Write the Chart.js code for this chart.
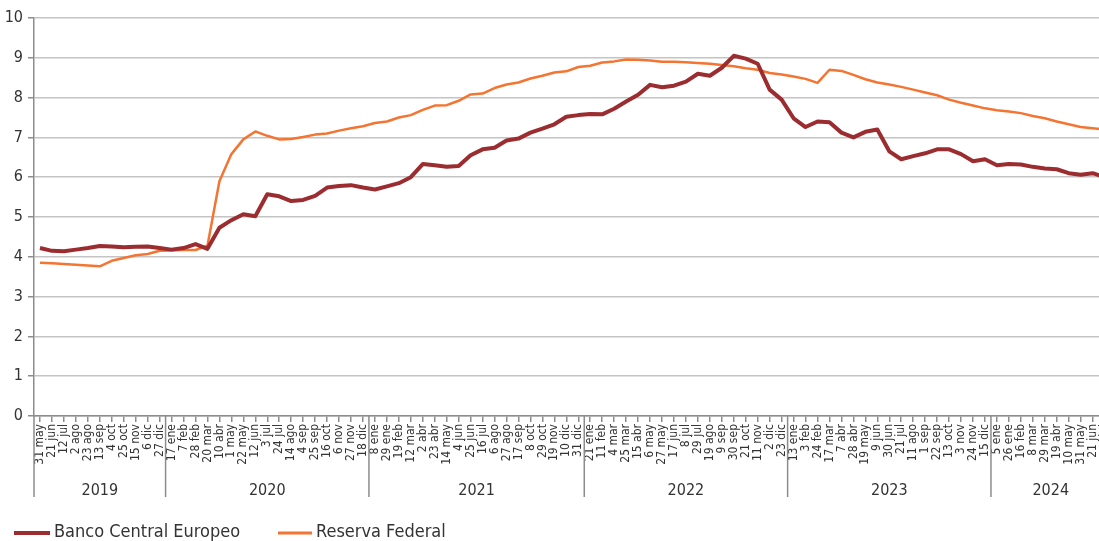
<!DOCTYPE html>
<html>
<head>
<meta charset="utf-8">
<script src="https://cdn.jsdelivr.net/npm/chart.js@4"></script>
<style>
  html, body { margin: 0; padding: 0; background: #fff; overflow: hidden; }
  #chart { display: block; }
</style>
</head>
<body>
<canvas id="chart" width="1121" height="548"></canvas>
<script>
// Tick labels, one every three weeks (31 may 2019 .. 12 jul 2024)
const tickLabels = [
    "31 may", "21 jun", "12 jul", "2 ago", "23 ago", "13 sep", "4 oct", "25 oct", "15 nov", "6 dic", "27 dic",
    "17 ene", "7 feb", "28 feb", "20 mar", "10 abr", "1 may", "22 may", "12 jun", "3 jul", "24 jul", "14 ago", "4 sep", "25 sep", "16 oct", "6 nov", "27 nov", "18 dic",
    "8 ene", "29 ene", "19 feb", "12 mar", "2 abr", "23 abr", "14 may", "4 jun", "25 jun", "16 jul", "6 ago", "27 ago", "17 sep", "8 oct", "29 oct", "19 nov", "10 dic", "31 dic",
    "21 ene", "11 feb", "4 mar", "25 mar", "15 abr", "6 may", "27 may", "17 jun", "8 jul", "29 jul", "19 ago", "9 sep", "30 sep", "21 oct", "11 nov", "2 dic", "23 dic",
    "13 ene", "3 feb", "24 feb", "17 mar", "7 abr", "28 abr", "19 may", "9 jun", "30 jun", "21 jul", "11 ago", "1 sep", "22 sep", "13 oct", "3 nov", "24 nov", "15 dic",
    "5 ene", "26 ene", "16 feb", "8 mar", "29 mar", "19 abr", "10 may", "31 may", "21 jun", "12 jul"
];

const years = ["2019", "2020", "2021", "2022", "2023", "2024"];
const yearStarts = [0, 11, 28, 46, 63, 80]; // index of first tick of each year

const ecbValues = [
    4.22, 4.15, 4.14, 4.18, 4.22, 4.27, 4.26, 4.24, 4.25, 4.26, 4.22,
    4.18, 4.22, 4.32, 4.20, 4.73, 4.92, 5.07, 5.02, 5.57, 5.52, 5.40, 5.43, 5.53, 5.74, 5.78, 5.80, 5.74,
    5.69, 5.77, 5.85, 6.00, 6.33, 6.30, 6.26, 6.28, 6.55, 6.70, 6.74, 6.92, 6.97, 7.12, 7.22, 7.33, 7.52, 7.56,
    7.59, 7.58, 7.72, 7.90, 8.07, 8.32, 8.26, 8.30, 8.40, 8.60, 8.55, 8.75, 9.05, 8.98, 8.85, 8.20, 7.95,
    7.48, 7.26, 7.40, 7.38, 7.12, 7.00, 7.14, 7.20, 6.65, 6.45, 6.53, 6.60, 6.70, 6.70, 6.58, 6.40, 6.45,
    6.30, 6.33, 6.32, 6.26, 6.22, 6.20, 6.10, 6.06, 6.10, 6.00
];

const fedValues = [
    3.85, 3.84, 3.82, 3.80, 3.78, 3.76, 3.90, 3.97, 4.04, 4.07, 4.15,
    4.16, 4.17, 4.17, 4.28, 5.90, 6.58, 6.95, 7.15, 7.04, 6.95, 6.96, 7.01, 7.07, 7.10, 7.17, 7.23, 7.28,
    7.36, 7.40, 7.50, 7.56, 7.69, 7.80, 7.81, 7.92, 8.08, 8.10, 8.24, 8.33, 8.38, 8.48, 8.55, 8.63, 8.66, 8.77,
    8.80, 8.88, 8.91, 8.96, 8.95, 8.93, 8.90, 8.90, 8.89, 8.87, 8.85, 8.82, 8.79, 8.74, 8.70, 8.62, 8.58,
    8.53, 8.47, 8.37, 8.70, 8.67, 8.57, 8.46, 8.38, 8.33, 8.27, 8.20, 8.13, 8.06, 7.95, 7.87, 7.80, 7.73,
    7.68, 7.65, 7.61, 7.54, 7.48, 7.40, 7.33, 7.26, 7.23, 7.20
];

const ECB_COLOR = "#9b2c2f";
const FED_COLOR = "#f47432";
const AXIS_COLOR = "#8c8c8c";
const TEXT_COLOR = "#333333";
const FONT = "'Liberation Sans Narrow', 'DejaVu Sans Condensed', 'Roboto Condensed', Roboto, sans-serif";

// year row under the rotated tick labels
const yearBands = {
    id: "yearBands",
    afterDraw(chart) {
        const { ctx, chartArea } = chart;
        const x = chart.scales.x;
        const half = (x.getPixelForValue(1) - x.getPixelForValue(0)) / 2;
        ctx.save();
        ctx.strokeStyle = AXIS_COLOR;
        ctx.lineWidth = 1.5;
        ctx.fillStyle = TEXT_COLOR;
        ctx.font = "16px " + FONT;
        ctx.textAlign = "center";
        ctx.textBaseline = "middle";
        yearStarts.forEach((start, k) => {
            const end = k + 1 < yearStarts.length ? yearStarts[k + 1] : tickLabels.length;
            const left = x.getPixelForValue(start) - half;
            const right = x.getPixelForValue(end - 1) + half;
            ctx.beginPath();
            ctx.moveTo(left, chartArea.bottom);
            ctx.lineTo(left, chartArea.bottom + 81);
            ctx.stroke();
            ctx.fillText(years[k], (left + right) / 2, chartArea.bottom + 75);
        });
        ctx.restore();
    }
};

// legend drawn by hand so items sit where they do in the original
const lineLegend = {
    id: "lineLegend",
    afterDraw(chart) {
        const { ctx } = chart;
        const items = [
            { ds: chart.data.datasets[0], x: 14, w: 36, lw: 4 },
            { ds: chart.data.datasets[1], x: 278, w: 34, lw: 3 }
        ];
        const y = 533;
        ctx.save();
        ctx.font = "18px " + FONT;
        ctx.textBaseline = "middle";
        ctx.fillStyle = TEXT_COLOR;
        items.forEach(it => {
            ctx.strokeStyle = it.ds.borderColor;
            ctx.lineWidth = it.lw;
            ctx.beginPath();
            ctx.moveTo(it.x, y);
            ctx.lineTo(it.x + it.w, y);
            ctx.stroke();
            ctx.fillText(it.ds.label, it.x + it.w + 4, y - 1);
        });
        ctx.restore();
    }
};

const ctx = document.getElementById("chart").getContext("2d");

new Chart(ctx, {
    type: "line",
    data: {
        labels: tickLabels,
        datasets: [
            {
                label: "Banco Central Europeo",
                data: ecbValues,
                borderColor: ECB_COLOR,
                borderWidth: 4,
                pointRadius: 0,
                tension: 0,
                borderJoinStyle: "round"
            },
            {
                label: "Reserva Federal",
                data: fedValues,
                borderColor: FED_COLOR,
                borderWidth: 2.5,
                pointRadius: 0,
                tension: 0,
                borderJoinStyle: "round"
            }
        ]
    },
    options: {
        responsive: false,
        animation: false,
        layout: { padding: { left: 0, right: 0, top: 18, bottom: 42 } },
        plugins: {
            legend: { display: false },
            tooltip: { enabled: false }
        },
        scales: {
            x: {
                offset: true,
                grid: {
                    offset: false,
                    drawOnChartArea: false,
                    drawTicks: true,
                    tickLength: 6,
                    color: AXIS_COLOR,
                    lineWidth: 1.5
                },
                border: { color: AXIS_COLOR, width: 1.5 },
                ticks: {
                    autoSkip: false,
                    maxRotation: 90,
                    minRotation: 90,
                    padding: 2,
                    color: TEXT_COLOR,
                    font: { family: FONT, size: 12 }
                },
                afterFit: s => { s.height = 90; }
            },
            y: {
                min: 0,
                max: 10,
                ticks: {
                    stepSize: 1,
                    padding: 5,
                    color: TEXT_COLOR,
                    font: { family: FONT, size: 16 }
                },
                grid: {
                    color: "#c4c4c4",
                    lineWidth: 1.5,
                    tickLength: 6,
                    tickColor: AXIS_COLOR
                },
                border: { color: AXIS_COLOR, width: 1.5 },
                afterFit: s => { s.width = 34; }
            }
        }
    },
    plugins: [yearBands, lineLegend]
});
</script>
</body>
</html>
